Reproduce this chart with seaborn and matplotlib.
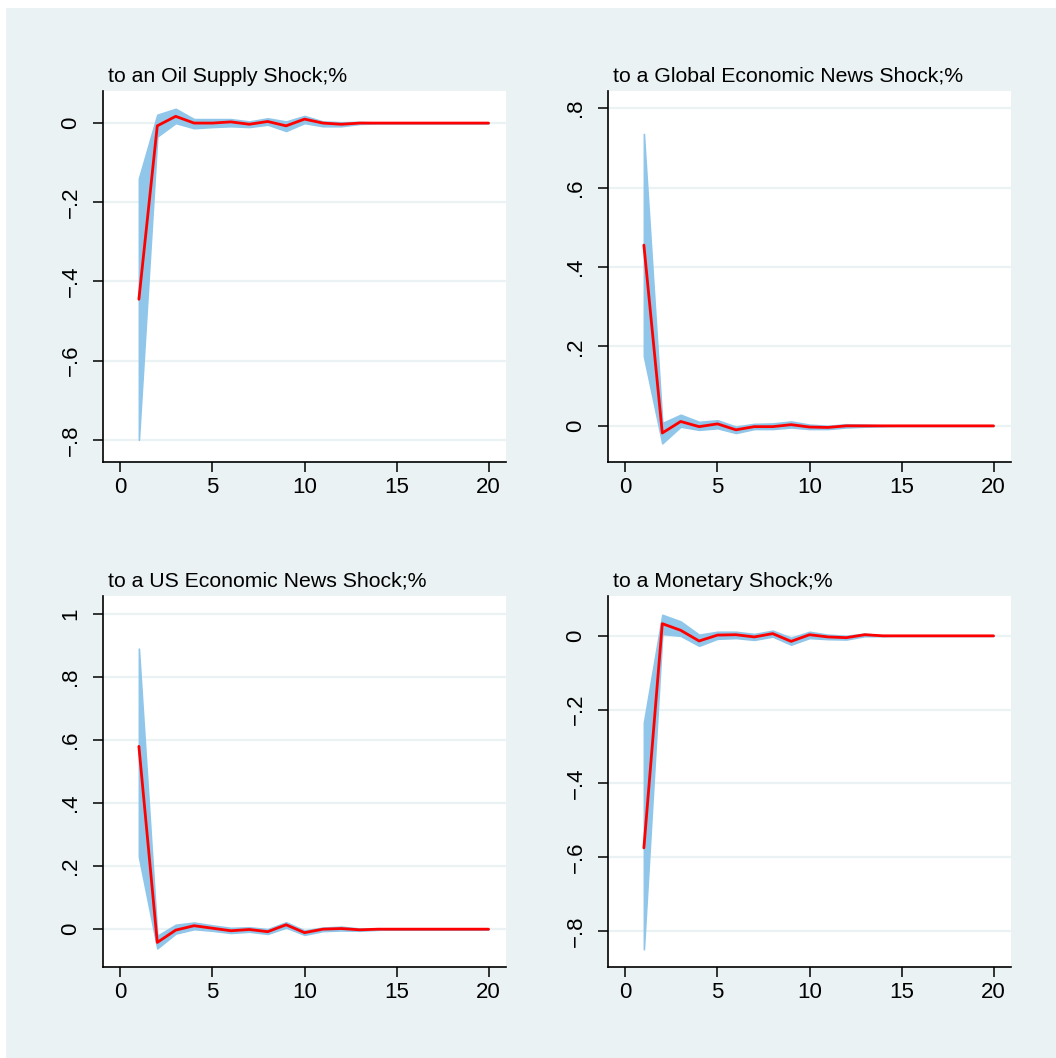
import matplotlib
matplotlib.use("Agg")
import matplotlib.pyplot as plt
from matplotlib.patches import Rectangle
import pandas as pd
import seaborn as sns

# ── Data: impulse responses, horizons 1..20 ─────────────────────────────────
horizon = list(range(1, 21))

titles = [
    "to an Oil Supply Shock;%",
    "to a Global Economic News Shock;%",
    "to a US Economic News Shock;%",
    "to a Monetary Shock;%",
]

irf_oil = [-0.445, -0.007, 0.017, 0.0, 0.0, 0.003, -0.003, 0.004, -0.007, 0.010,
           0.0, -0.003, 0.0, 0.0, 0.0, 0.0, 0.0, 0.0, 0.0, 0.0]
lo_oil = [-0.80, -0.034, 0.0, -0.013, -0.010, -0.008, -0.010, -0.004, -0.020, 0.0,
          -0.008, -0.008, -0.002, -0.001, 0.0, 0.0, 0.0, 0.0, 0.0, 0.0]
hi_oil = [-0.14, 0.021, 0.036, 0.010, 0.010, 0.010, 0.004, 0.012, 0.004, 0.018,
          0.004, 0.002, 0.003, 0.001, 0.0, 0.0, 0.0, 0.0, 0.0, 0.0]

irf_glob = [0.455, -0.018, 0.011, -0.002, 0.005, -0.010, -0.002, -0.002, 0.003, -0.003,
            -0.004, 0.0, 0.0, 0.0, 0.0, 0.0, 0.0, 0.0, 0.0, 0.0]
lo_glob = [0.175, -0.044, -0.002, -0.010, -0.006, -0.018, -0.008, -0.008, -0.004, -0.008,
           -0.008, -0.004, -0.002, -0.001, 0.0, 0.0, 0.0, 0.0, 0.0, 0.0]
hi_glob = [0.735, 0.007, 0.028, 0.010, 0.014, -0.002, 0.005, 0.006, 0.011, 0.003,
           0.0, 0.004, 0.003, 0.001, 0.0, 0.0, 0.0, 0.0, 0.0, 0.0]

irf_us = [0.58, -0.042, -0.003, 0.011, 0.003, -0.005, -0.001, -0.008, 0.014, -0.011,
          0.0, 0.002, -0.002, 0.0, 0.0, 0.0, 0.0, 0.0, 0.0, 0.0]
lo_us = [0.23, -0.061, -0.014, 0.0, -0.005, -0.012, -0.008, -0.015, 0.005, -0.018,
         -0.006, -0.004, -0.005, -0.002, 0.0, 0.0, 0.0, 0.0, 0.0, 0.0]
hi_us = [0.89, -0.021, 0.014, 0.021, 0.012, 0.004, 0.006, 0.0, 0.022, -0.004,
         0.005, 0.008, 0.002, 0.001, 0.0, 0.0, 0.0, 0.0, 0.0, 0.0]

irf_mon = [-0.575, 0.033, 0.015, -0.014, 0.002, 0.003, -0.003, 0.006, -0.015, 0.003,
           -0.003, -0.005, 0.003, 0.0, 0.0, 0.0, 0.0, 0.0, 0.0, 0.0]
lo_mon = [-0.85, 0.005, 0.0, -0.027, -0.008, -0.006, -0.011, -0.002, -0.024, -0.006,
          -0.009, -0.010, -0.001, -0.001, 0.0, 0.0, 0.0, 0.0, 0.0, 0.0]
hi_mon = [-0.235, 0.057, 0.039, 0.003, 0.011, 0.011, 0.005, 0.014, -0.005, 0.011,
          0.003, 0.0, 0.006, 0.001, 0.0, 0.0, 0.0, 0.0, 0.0, 0.0]

series = [
    (irf_oil, lo_oil, hi_oil),
    (irf_glob, lo_glob, hi_glob),
    (irf_us, lo_us, hi_us),
    (irf_mon, lo_mon, hi_mon),
]

yticks = [
    [-0.8, -0.6, -0.4, -0.2, 0.0],
    [0.0, 0.2, 0.4, 0.6, 0.8],
    [0.0, 0.2, 0.4, 0.6, 0.8, 1.0],
    [-0.8, -0.6, -0.4, -0.2, 0.0],
]
ylims = [(-0.856, 0.081), (-0.091, 0.843), (-0.12, 1.057), (-0.898, 0.108)]
xticks = [0, 5, 10, 15, 20]

# ── Styling ─────────────────────────────────────────────────────────────────
BG = "#eaf2f3"
BAND = "#8fc6ea"
LINE = "#ff0000"

sns.set_theme(style="white")
plt.rcParams["font.family"] = ["Liberation Sans", "DejaVu Sans"]


def stata_fmt(v):
    # Stata style: 0, .2, -.4, 1
    if abs(v) < 1e-9:
        return "0"
    if abs(v - round(v)) < 1e-9:
        return str(int(round(v)))
    s = f"{abs(v):.1f}".lstrip("0")
    return ("\u2212" if v < 0 else "") + s


fig = plt.figure(figsize=(10.56, 10.58), dpi=100, facecolor="white")
fig.patches.append(Rectangle((6 / 1056, 0), 1, 1 - 8 / 1058,
                             transform=fig.transFigure, facecolor=BG,
                             edgecolor="none", zorder=-10))

# axes boxes in pixels: left, top, right, bottom
boxes = [
    (103, 91, 506, 462),
    (608, 91, 1011, 462),
    (103, 596, 506, 967),
    (608, 596, 1011, 967),
]

for i, (l, t, r, b) in enumerate(boxes):
    ax = fig.add_axes([l / 1056, 1 - b / 1058, (r - l) / 1056, (b - t) / 1058])
    ax.set_facecolor("white")
    irf, lo, hi = series[i]
    df = pd.DataFrame({"h": horizon, "irf": irf, "lo": lo, "hi": hi})

    for y in yticks[i]:
        ax.axhline(y, color=BG, lw=1.6, zorder=0)

    ax.fill_between(df["h"], df["lo"], df["hi"], color=BAND, lw=1.2,
                    edgecolor=BAND, zorder=2)
    sns.lineplot(data=df, x="h", y="irf", ax=ax, color=LINE, lw=2.0, zorder=3)

    ax.set_xlim(-0.95, 20.95)
    ax.set_ylim(*ylims[i])
    ax.set_xticks(xticks)
    ax.set_xticklabels([str(x) for x in xticks])
    ax.set_yticks(yticks[i])
    ax.set_yticklabels([stata_fmt(v) for v in yticks[i]], rotation=90, va="center")
    ax.set_xlabel("")
    ax.set_ylabel("")

    for side in ["top", "right"]:
        ax.spines[side].set_visible(False)
    for side in ["left", "bottom"]:
        ax.spines[side].set_color("black")
        ax.spines[side].set_linewidth(1.2)
    ax.tick_params(axis="both", direction="out", length=7, width=1.1,
                   colors="black", labelsize=16, left=True, bottom=True)
    ax.tick_params(axis="x", pad=3.5)
    ax.tick_params(axis="y", pad=8.5)

    ax.set_title(titles[i], loc="left", fontsize=15.3, pad=6.8, color="black",
                 x=0.012)

fig.savefig("out.png", dpi=100, facecolor="white")
